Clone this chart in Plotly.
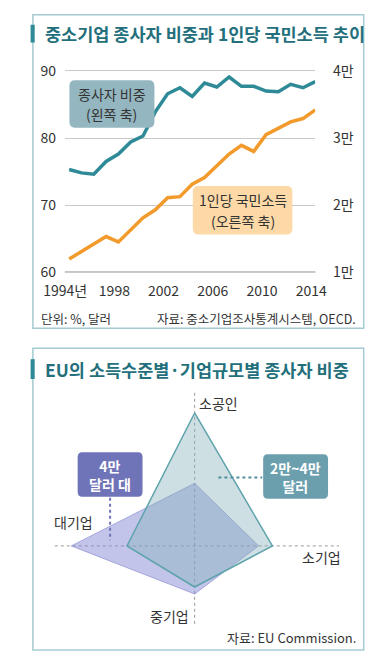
import plotly.graph_objects as go
import math

# ---------------- data ----------------
years = list(range(1994, 2015))
employee_share = [75.3, 74.8, 74.6, 76.5, 77.6, 79.4, 80.3, 83.9, 86.6, 87.5, 86.2,
                  88.2, 87.6, 89.1, 87.7, 87.7, 87.0, 86.9, 88.0, 87.5, 88.4]
gni_per_capita = [11950, 13050, 14150, 15300, 14500, 16300, 18100, 19300, 21100, 21250, 23100,
                  24100, 25900, 27600, 28900, 28000, 30500, 31400, 32400, 32900, 34200]
x_tickvals = [1994, 1998, 2002, 2006, 2010, 2014]
x_ticktext = ["1994년", "1998", "2002", "2006", "2010", "2014"]
y_tickvals = [60, 70, 80, 90]
y2_tickvals = [10000, 20000, 30000, 40000]
y2_ticktext = ["1만", "2만", "3만", "4만"]

radar_categories = ["소공인", "소기업", "중기업", "대기업"]
radar_angles = [90, 0, 270, 180]
share_20k_40k = [40.1, 25.4, 12.4, 22.1]   # 2만~4만 달러
share_40k = [18.9, 20.9, 14.5, 40.3]       # 4만 달러 대

# ---------------- layout helpers ----------------
W, H = 383, 667
FONT = "Noto Sans CJK KR, Noto Sans, sans-serif"
TEXT = "#333333"
TEAL = "#2e8a96"
ORANGE = "#f39a2c"
BORDER = "#a4cbd2"


def px(x):
    return x / W


def py(y):
    return 1 - y / H


fig = go.Figure()

# ---------------- top line chart ----------------
fig.add_trace(go.Scatter(x=years, y=employee_share, mode="lines",
                         line=dict(color=TEAL, width=3.5), yaxis="y", xaxis="x",
                         hoverinfo="skip", showlegend=False))
fig.add_trace(go.Scatter(x=years, y=gni_per_capita, mode="lines",
                         line=dict(color=ORANGE, width=3.5), yaxis="y2", xaxis="x",
                         hoverinfo="skip", showlegend=False))

# pixel geometry of top plot
y60_px, y90_px = 275.0, 71.7
ppu = (y60_px - y90_px) / 30.0
ymin, ymax = 59.7, 92
dom_bottom = y60_px + (60 - ymin) * ppu
dom_top = y90_px - (ymax - 90) * ppu

# ---------------- radar (cartesian projection of the values) ----------------
cx, cy, scale = 190.0, 551.7, 3.35


def polygon(vals):
    xs = [v * math.cos(math.radians(a)) for v, a in zip(vals, radar_angles)]
    ys = [v * math.sin(math.radians(a)) for v, a in zip(vals, radar_angles)]
    return xs + xs[:1], ys + ys[:1]


xp, yp = polygon(share_40k)
fig.add_trace(go.Scatter(x=xp, y=yp, mode="lines", fill="toself",
                         fillcolor="rgba(128,132,208,0.48)",
                         line=dict(color="rgba(140,142,210,0.7)", width=1),
                         xaxis="x3", yaxis="y3", hoverinfo="skip", showlegend=False))
xt, yt = polygon(share_20k_40k)
fig.add_trace(go.Scatter(x=xt, y=yt, mode="lines", fill="toself",
                         fillcolor="rgba(135,178,188,0.42)",
                         line=dict(color="#5fa3ad", width=1.5),
                         xaxis="x3", yaxis="y3", hoverinfo="skip", showlegend=False))

r_dom_top, r_dom_bottom = 352.0, 667.0

shapes = []
annotations = []

# panel borders
shapes.append(dict(type="rect", xref="paper", yref="paper", x0=px(13), x1=px(375),
                   y0=py(331.7), y1=py(15), line=dict(color=BORDER, width=1.5), layer="below"))
shapes.append(dict(type="rect", xref="paper", yref="paper", x0=px(13), x1=px(375),
                   y0=py(657), y1=py(352), line=dict(color=BORDER, width=1.5), layer="below"))
# title bars
for (t0, t1) in [(25, 43), (363, 383)]:
    shapes.append(dict(type="rect", xref="paper", yref="paper", x0=px(10.5), x1=px(15),
                       y0=py(t1), y1=py(t0), line=dict(width=0), fillcolor=TEAL))

# baseline at 60
shapes.append(dict(type="line", xref="x domain", yref="y", x0=0, x1=1, y0=60, y1=60,
                   line=dict(color="#8c8c8c", width=1.2), layer="below"))


def rounded_rect(x0, y0, x1, y1, r, color):
    X = lambda v: px(v)
    Y = lambda v: py(v)
    path = (f"M {X(x0 + r)},{Y(y0)} L {X(x1 - r)},{Y(y0)} Q {X(x1)},{Y(y0)} {X(x1)},{Y(y0 + r)} "
            f"L {X(x1)},{Y(y1 - r)} Q {X(x1)},{Y(y1)} {X(x1 - r)},{Y(y1)} "
            f"L {X(x0 + r)},{Y(y1)} Q {X(x0)},{Y(y1)} {X(x0)},{Y(y1 - r)} "
            f"L {X(x0)},{Y(y0 + r)} Q {X(x0)},{Y(y0)} {X(x0 + r)},{Y(y0)} Z")
    return dict(type="path", xref="paper", yref="paper", path=path,
                fillcolor=color, line=dict(width=0), layer="above")


shapes.append(rounded_rect(53, 81, 146, 129, 6, "#93b6c0"))
shapes.append(rounded_rect(188, 188, 297, 237, 6, "#fcd9a6"))

# radar spokes (dotted)
shapes.append(dict(type="line", xref="paper", yref="paper", x0=px(cx), x1=px(cx),
                   y0=py(397), y1=py(633), line=dict(color="#9a9a9a", width=1, dash="dot"),
                   layer="below"))
shapes.append(dict(type="line", xref="paper", yref="paper", x0=px(37), x1=px(348),
                   y0=py(cy), y1=py(cy), line=dict(color="#9a9a9a", width=1, dash="dot"),
                   layer="below"))
# radar label boxes and connectors
shapes.append(rounded_rect(62, 457, 133, 502, 5, "#6f74b9"))
shapes.append(rounded_rect(265, 459, 336, 504, 5, "#6c9fae"))
shapes.append(dict(type="line", xref="paper", yref="paper", x0=px(97.5), x1=px(97.5),
                   y0=py(503), y1=py(546), line=dict(color="#6f74b9", width=2, dash="dot")))
shapes.append(dict(type="line", xref="paper", yref="paper", x0=px(216), x1=px(264),
                   y0=py(482.5), y1=py(482.5), line=dict(color="#4f8f9c", width=2, dash="dot")))


def text(x, y, s, size=14, color=TEXT, xanchor="center", weight=None):
    f = dict(family=FONT, size=size, color=color)
    if weight:
        f["weight"] = weight
    a = dict(xref="paper", yref="paper", x=px(x), y=py(y), text=s,
             showarrow=False, xanchor=xanchor, yanchor="middle", font=f, align="center")
    annotations.append(a)


# titles
text(24, 34, "중소기업 종사자 비중과 1인당 국민소득 추이", size=17.5, color="#23707c",
     xanchor="left", weight=700)
text(24, 373, "EU의 소득수준별·기업규모별 종사자 비중", size=17.5, color="#23707c",
     xanchor="left", weight=700)

# top chart labels
text(99.5, 94.5, "종사자 비중", size=14)
text(99.5, 115, "(왼쪽 축)", size=14)
text(242.5, 202.5, "1인당 국민소득", size=14)
text(242.5, 223, "(오른쪽 축)", size=14)
text(20, 322, "단위: %, 달러", size=12.5, xanchor="left")
text(369, 322, "자료: 중소기업조사통계시스템, OECD.", size=12.5, xanchor="right")

# radar labels
text(216, 407, "소공인", size=14)
text(329, 563, "소기업", size=14)
text(163, 623, "중기업", size=14)
text(57, 528, "대기업", size=14)
text(97.5, 480, "4만<br>달러 대", size=14, color="white", weight=700)
text(300.5, 482.5, "2만~4만<br>달러", size=14, color="white", weight=700)
text(369, 644, "자료: EU Commission.", size=13, xanchor="right")

axis_font = dict(family=FONT, size=14, color=TEXT)

fig.update_layout(
    width=W, height=H, margin=dict(l=0, r=0, t=0, b=0),
    paper_bgcolor="white", plot_bgcolor="rgba(0,0,0,0)",
    showlegend=False, hovermode=False,
    xaxis=dict(domain=[px(48), px(322)], range=[1993.65, 2014], tickvals=x_tickvals,
               ticktext=x_ticktext, showgrid=False, zeroline=False, showline=False,
               ticks="outside", ticklen=4.5, tickcolor="rgba(0,0,0,0)", tickfont=axis_font,
               ticklabelshift=-4, fixedrange=True),
    yaxis=dict(domain=[py(dom_bottom), py(dom_top)], range=[ymin, ymax], tickvals=y_tickvals,
               showgrid=True, gridcolor="#c9c9c9", gridwidth=1, zeroline=False,
               ticks="outside", ticklen=5, tickcolor="rgba(0,0,0,0)", tickfont=axis_font,
               fixedrange=True),
    yaxis2=dict(overlaying="y", side="right", anchor="x",
                range=[10000 + (ymin - 60) * 1000, 10000 + (ymax - 60) * 1000],
                tickvals=y2_tickvals, ticktext=y2_ticktext, showgrid=False, zeroline=False,
                ticks="outside", ticklen=14, tickcolor="rgba(0,0,0,0)", tickfont=axis_font,
                fixedrange=True),
    xaxis3=dict(domain=[0, 1], range=[(0 - cx) / scale, (W - cx) / scale], visible=False,
                anchor="y3", fixedrange=True),
    yaxis3=dict(domain=[py(r_dom_bottom), py(r_dom_top)],
                range=[(cy - r_dom_bottom) / scale, (cy - r_dom_top) / scale],
                visible=False, anchor="x3", fixedrange=True),
    shapes=shapes, annotations=annotations,
)

fig.write_html("out.html", config={"displayModeBar": False},
               post_script="document.body.style.margin='0';document.body.style.overflow='hidden';")
